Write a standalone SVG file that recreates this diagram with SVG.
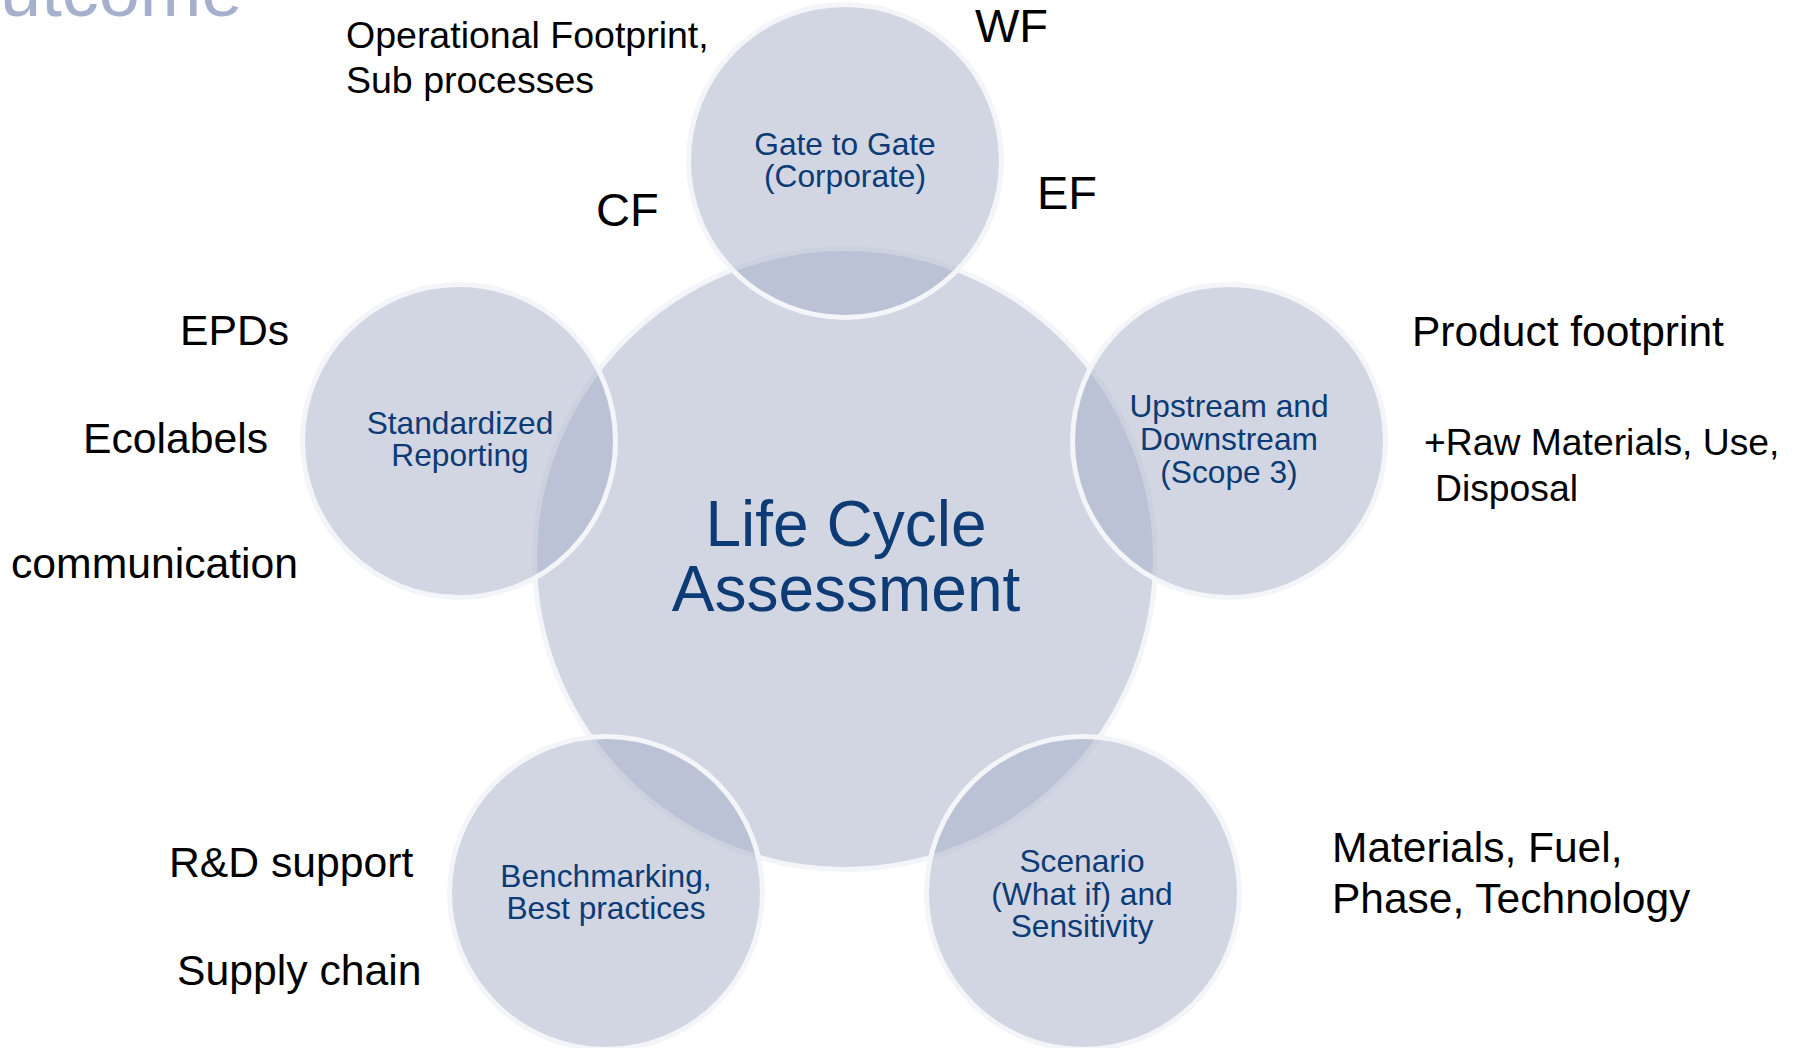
<svg xmlns="http://www.w3.org/2000/svg" width="1794" height="1048" viewBox="0 0 1794 1048">
  <style>
    .disc { fill: rgb(165,173,199); fill-opacity: 0.5; stroke: #f3f5f9; stroke-width: 5; }
    .hub { font-family: "Liberation Sans", Arial, sans-serif; font-size: 64px; fill: #0c3b75; text-anchor: middle; }
    .lbl { font-family: "Liberation Sans", Arial, sans-serif; font-size: 31.7px; fill: #0c3b75; text-anchor: middle; }
    .note { font-family: "Liberation Sans", Arial, sans-serif; fill: #000000; }
    .title { font-family: "Liberation Sans", Arial, sans-serif; font-size: 74px; fill: #a6b0cc; }
  </style>

  <rect x="0" y="0" width="1794" height="1048" fill="#ffffff"/>

  <!-- slide title, mostly above the top edge -->
  <text class="title" x="0" y="16">utcome</text>

  <!-- hub -->
  <g id="lca">
    <circle class="disc" cx="845" cy="559" r="310.5"/>
    <text class="hub" x="846" y="546">Life Cycle<tspan x="846" dy="65">Assessment</tspan></text>
  </g>

  <!-- satellites -->
  <g id="gate-to-gate">
    <circle class="disc" cx="845" cy="161" r="156.5"/>
    <text class="lbl" x="845" y="155">Gate to Gate<tspan x="845" dy="32">(Corporate)</tspan></text>
  </g>

  <g id="upstream-downstream">
    <circle class="disc" cx="1229" cy="441" r="156.5"/>
    <text class="lbl" x="1229" y="417">Upstream and<tspan x="1229" dy="33">Downstream</tspan><tspan x="1229" dy="33">(Scope 3)</tspan></text>
  </g>

  <g id="scenario">
    <circle class="disc" cx="1083" cy="893" r="156.5"/>
    <text class="lbl" x="1082" y="872">Scenario<tspan x="1082" dy="32.5">(What if) and</tspan><tspan x="1082" dy="32.5">Sensitivity</tspan></text>
  </g>

  <g id="benchmarking">
    <circle class="disc" cx="606" cy="893" r="156.5"/>
    <text class="lbl" x="606" y="887">Benchmarking,<tspan x="606" dy="31.5">Best practices</tspan></text>
  </g>

  <g id="standardized-reporting">
    <circle class="disc" cx="459" cy="441" r="156.5"/>
    <text class="lbl" x="460" y="434">Standardized<tspan x="460" dy="32">Reporting</tspan></text>
  </g>

  <!-- no connectors: satellites simply overlap the hub -->
  <g id="connectors"/>

  <!-- annotations around the wheel -->
  <g id="notes">
    <text class="note" x="346" y="48" font-size="37.5">Operational Footprint,<tspan x="346" dy="45">Sub processes</tspan></text>
    <text class="note" x="975" y="42" font-size="47">WF</text>
    <text class="note" x="1037" y="209" font-size="47">EF</text>
    <text class="note" x="596" y="226" font-size="47">CF</text>

    <text class="note" x="1412" y="346" font-size="42.5">Product footprint</text>
    <text class="note" x="1424" y="455" font-size="37.3">+Raw Materials, Use,<tspan x="1435" dy="46">Disposal</tspan></text>

    <text class="note" x="1332" y="862" font-size="42.5">Materials, Fuel,<tspan x="1332" dy="51">Phase, Technology</tspan></text>

    <text class="note" x="169" y="877" font-size="42.7">R&amp;D support</text>
    <text class="note" x="177" y="985" font-size="42.7">Supply chain</text>

    <text class="note" x="180" y="345" font-size="42.7">EPDs</text>
    <text class="note" x="83" y="453" font-size="42.7">Ecolabels</text>
    <text class="note" x="11" y="578" font-size="42.7">communication</text>
  </g>
</svg>
